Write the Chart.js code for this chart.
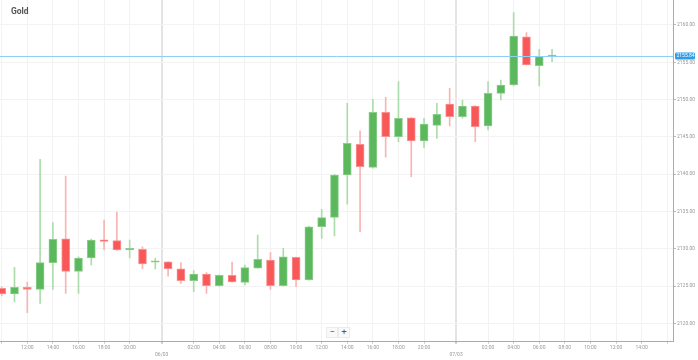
<!DOCTYPE html>
<html>
<head>
<meta charset="utf-8">
<script src="https://cdn.jsdelivr.net/npm/chart.js@4.4.1/dist/chart.umd.min.js"></script>
<style>
  body { margin: 0; background: #fff; font-family: Roboto, "Noto Sans", sans-serif; }
  #wrap { position: relative; width: 698px; height: 360px; }
  #title { position: absolute; left: 11px; top: 6px; font-size: 8.5px; font-weight: bold; color: #555; }
  .zoomBtn { position: absolute; top: 327px; width: 10px; height: 9px; border: 1px solid #ececec; background: #f9f9f9;
             color: #555; font-size: 9px; line-height: 9px; text-align: center; }
</style>
</head>
<body>
<div id="wrap">
  <canvas id="goldChart" width="698" height="360"></canvas>
  <div id="title">Gold</div>
  <div class="zoomBtn" style="left:326px">−</div>
  <div class="zoomBtn" style="left:338px">+</div>
</div>
<script>
/**
 *  Hourly candles, one slot per hour (the 23:00 hour is not traded).
 */
var slots = [0, 1, 2, 3, 4, 5, 6, 7, 8, 9, 10, 11, 12, 13, 14, 15, 16, 17, 18, 19, 20, 21,
             22, 23, 24, 25, 26, 27, 28, 29, 30, 31, 32, 33, 34, 35, 36, 37, 38, 39, 40, 41, 42, 43];
var openVals = [2124.70, 2123.94, 2124.84, 2124.57, 2128.14, 2131.35, 2126.98, 2128.77, 2131.18, 2131.09,
                2129.85, 2129.93, 2128.20, 2128.27, 2127.33, 2125.72, 2126.62, 2125.05, 2126.45, 2125.51,
                2127.39, 2128.50, 2125.05, 2128.86, 2125.82, 2132.96, 2134.22, 2139.89, 2144.01, 2140.92,
                2148.30, 2145.03, 2147.57, 2144.45, 2146.55, 2149.41, 2147.71, 2149.14, 2146.46, 2150.84,
                2151.96, 2158.43, 2154.55, 2155.75];
var highVals = [2124.90, 2127.52, 2125.55, 2142.00, 2133.50, 2139.76, 2128.94, 2131.30, 2133.86, 2134.93,
                2131.18, 2130.28, 2128.73, 2128.30, 2128.14, 2127.07, 2126.80, 2126.50, 2128.23, 2127.83,
                2131.85, 2129.48, 2130.07, 2128.90, 2133.00, 2135.30, 2140.00, 2149.50, 2145.83, 2150.04,
                2150.31, 2152.40, 2147.60, 2147.50, 2149.50, 2151.51, 2149.95, 2149.20, 2152.40, 2152.63,
                2161.65, 2158.97, 2156.74, 2156.74];
var lowVals = [2123.70, 2122.87, 2121.43, 2122.69, 2124.57, 2124.03, 2124.03, 2127.83, 2129.84, 2129.80,
               2128.77, 2127.33, 2127.30, 2126.35, 2125.37, 2124.25, 2124.03, 2125.00, 2125.50, 2125.15,
               2127.39, 2124.57, 2125.00, 2124.92, 2125.80, 2131.40, 2131.72, 2136.00, 2132.29, 2140.80,
               2142.27, 2144.36, 2139.67, 2143.55, 2144.81, 2146.46, 2147.50, 2144.36, 2145.92, 2149.95,
               2151.82, 2154.64, 2151.82, 2155.08];
var closeVals = [2123.94, 2124.84, 2124.57, 2128.14, 2131.27, 2126.98, 2128.77, 2131.18, 2131.00, 2129.84,
                 2129.95, 2127.96, 2128.30, 2127.33, 2125.72, 2126.62, 2125.05, 2126.45, 2125.55, 2127.47,
                 2128.59, 2125.05, 2128.94, 2125.82, 2132.96, 2134.17, 2139.89, 2144.14, 2141.00, 2148.30,
                 2145.03, 2147.50, 2144.45, 2146.73, 2148.03, 2147.71, 2149.14, 2146.37, 2150.84, 2151.96,
                 2158.53, 2154.64, 2155.75, 2155.84];

// x axis: tick slots and their labels (date ticks sit between 22:00 and 00:00)
var xTickSlots = [0, 2, 4, 6, 8, 10, 12.5, 15, 17, 19, 21, 23, 25, 27, 29, 31, 33, 35.5,
                  38, 40, 42, 44, 46, 48, 50, 52];
var xTickLabels = ['', '12:00', '14:00', '16:00', '18:00', '20:00', ['', '06/03'], '02:00', '04:00', '06:00',
                   '08:00', '10:00', '12:00', '14:00', '16:00', '18:00', '20:00', ['', '07/03'],
                   '02:00', '04:00', '06:00', '08:00', '10:00', '12:00', '14:00', ''];
var daySlots = [12.5, 35.5];
var yTickVals = [2120, 2125, 2130, 2135, 2140, 2145, 2150, 2155, 2160];
var lastPrice = closeVals[closeVals.length - 1];

var green = '#5cb85c', red = '#f85858';
var bodyData = [], wickData = [], bodyFill = [], bodyEdge = [], wickColor = [];
for (var i = 0; i < slots.length; i++) {
    var up = closeVals[i] >= openVals[i];
    bodyData.push({x: slots[i], y: [openVals[i], closeVals[i]]});
    wickData.push({x: slots[i], y: [lowVals[i], highVals[i]]});
    bodyFill.push(up ? green : red);
    bodyEdge.push(up ? '#8ccd8c' : '#fa9090');
    wickColor.push(up ? '#acdcac' : '#f9b4b4');
}

/**
 * Draws the last price line and its tag on the right axis.
 */
var priceLine = {
    id: 'priceLine',
    afterDraw: function(chart) {
        var ctx = chart.ctx, area = chart.chartArea;
        var y = Math.round(chart.scales.y.getPixelForValue(lastPrice)) + 0.5;
        ctx.save();
        ctx.strokeStyle = '#8dcff6';
        ctx.lineWidth = 1;
        ctx.beginPath();
        ctx.moveTo(area.left, y);
        ctx.lineTo(area.right, y);
        ctx.stroke();
        ctx.fillStyle = '#2f9de6';
        ctx.beginPath();
        ctx.roundRect(area.right + 2, y - 4, 20, 7, 1.5);
        ctx.fill();
        ctx.fillStyle = '#fff';
        ctx.font = '5px Roboto';
        ctx.textBaseline = 'middle';
        ctx.fillText(lastPrice.toFixed(2), area.right + 3.5, y - 0.5);
        ctx.restore();
    }
};

var goldChart = new Chart(document.getElementById('goldChart').getContext('2d'), {
    type: 'bar',
    data: {
        datasets: [{
            label: 'body',
            data: bodyData,
            backgroundColor: bodyFill,
            borderColor: bodyEdge,
            borderWidth: 1,
            borderSkipped: false,
            barThickness: 8,
            minBarLength: 1.5,
            grouped: false,
            order: 0
        }, {
            label: 'wick',
            data: wickData,
            backgroundColor: wickColor,
            borderWidth: 0,
            barThickness: 1,
            grouped: false,
            order: 1
        }]
    },
    options: {
        responsive: false,
        animation: false,
        devicePixelRatio: 1,
        layout: { padding: 0 },
        plugins: { legend: { display: false }, tooltip: { enabled: false } },
        scales: {
            x: {
                type: 'linear',
                offset: false,
                min: -0.133,
                max: 52.45,
                afterBuildTicks: function(scale) {
                    scale.ticks = xTickSlots.map(function(v) { return {value: v}; });
                },
                afterFit: function(scale) {
                    scale.height = 18.3;
                    scale.paddingLeft = 0;
                    scale.paddingRight = 0;
                },
                ticks: {
                    autoSkip: false,
                    maxRotation: 0,
                    padding: 0,
                    color: '#999',
                    font: { size: 5, family: 'Roboto', lineHeight: 1.5 },
                    callback: function(value, index) { return xTickLabels[index]; }
                },
                grid: {
                    offset: false,
                    tickLength: 2,
                    color: function(c) {
                        return c.tick && daySlots.indexOf(c.tick.value) >= 0 ? '#e4e4e4' : '#f2f2f2';
                    },
                    lineWidth: function(c) {
                        return c.tick && daySlots.indexOf(c.tick.value) >= 0 ? 2 : 1;
                    },
                    tickColor: '#c8c8c8'
                },
                border: { color: '#aaa', width: 1 }
            },
            y: {
                position: 'right',
                min: 2117.55,
                max: 2163.35,
                afterBuildTicks: function(scale) {
                    scale.ticks = yTickVals.map(function(v) { return {value: v}; });
                },
                afterFit: function(scale) {
                    scale.width = 25;
                    scale.paddingTop = 0;
                    scale.paddingBottom = 0;
                },
                ticks: {
                    padding: 1,
                    color: '#999',
                    font: { size: 5, family: 'Roboto' },
                    callback: function(value) { return value.toFixed(2); }
                },
                grid: { color: '#f3f3f3', tickLength: 3, tickColor: '#bbb' },
                border: { color: '#aaa', width: 1 }
            }
        }
    },
    plugins: [priceLine]
});
</script>
</body>
</html>
